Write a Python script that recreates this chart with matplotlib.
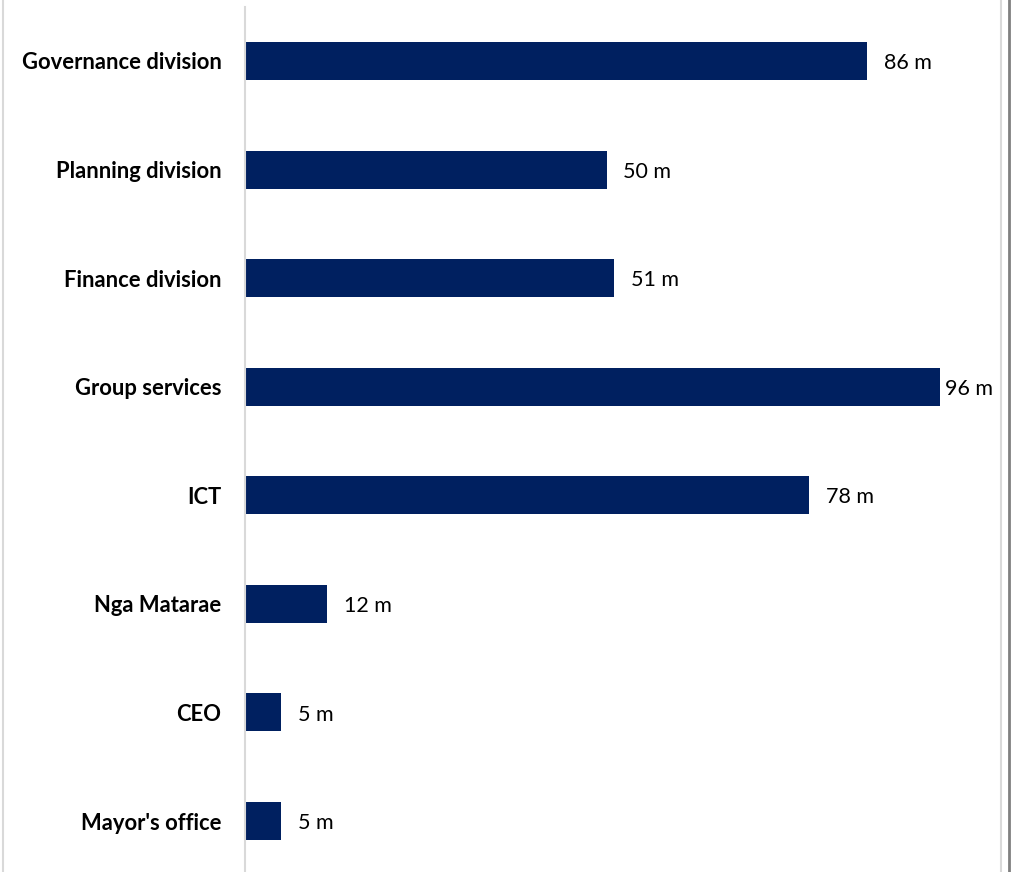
import matplotlib.pyplot as plt
from matplotlib.lines import Line2D

categories = ["Governance division", "Planning division", "Finance division",
              "Group services", "ICT", "Nga Matarae", "CEO", "Mayor's office"]
values = [86, 50, 51, 96, 78, 11.4, 5, 5]
value_labels = ["86 m", "50 m", "51 m", "96 m", "78 m", "12 m", "5 m", "5 m"]

plt.rcParams['font.family'] = ['Lato', 'DejaVu Sans']

fig = plt.figure(figsize=(10.16, 8.72), dpi=100)
ax = fig.add_axes([245 / 1016, -3.3 / 872, (1000 - 245) / 1016, 868.6 / 872])

pos = list(range(len(categories)))
ax.barh(pos, values, height=0.35, color='#002060')
ax.set_ylim(len(categories) - 0.5, -0.5)
ax.set_xlim(0, 755 / 7.235)

for p, v, lab in zip(pos, values, value_labels):
    off = 4 if v == max(values) else 12
    ax.annotate(lab, (v, p), xytext=(off, -1.5), textcoords='offset points',
                va='center', ha='left', fontsize=15.5, color='black')

ax.set_yticks(pos)
ax.set_yticklabels(categories, fontsize=15.8, fontweight='bold')
ax.tick_params(axis='y', length=0, pad=17)
ax.set_xticks([])
for s in ['top', 'right', 'bottom']:
    ax.spines[s].set_visible(False)
ax.spines['left'].set_color('#D9D9D9')
ax.spines['left'].set_linewidth(1.5)

# outer frame lines
fig.add_artist(Line2D([2.5 / 1016] * 2, [0, 1], color='#D9D9D9', lw=1.5))
fig.add_artist(Line2D([1000.5 / 1016] * 2, [0, 1], color='#D9D9D9', lw=1.5))
fig.add_artist(Line2D([1009 / 1016] * 2, [0, 1], color='#808080', lw=2))

fig.savefig('out.png', dpi=100)
